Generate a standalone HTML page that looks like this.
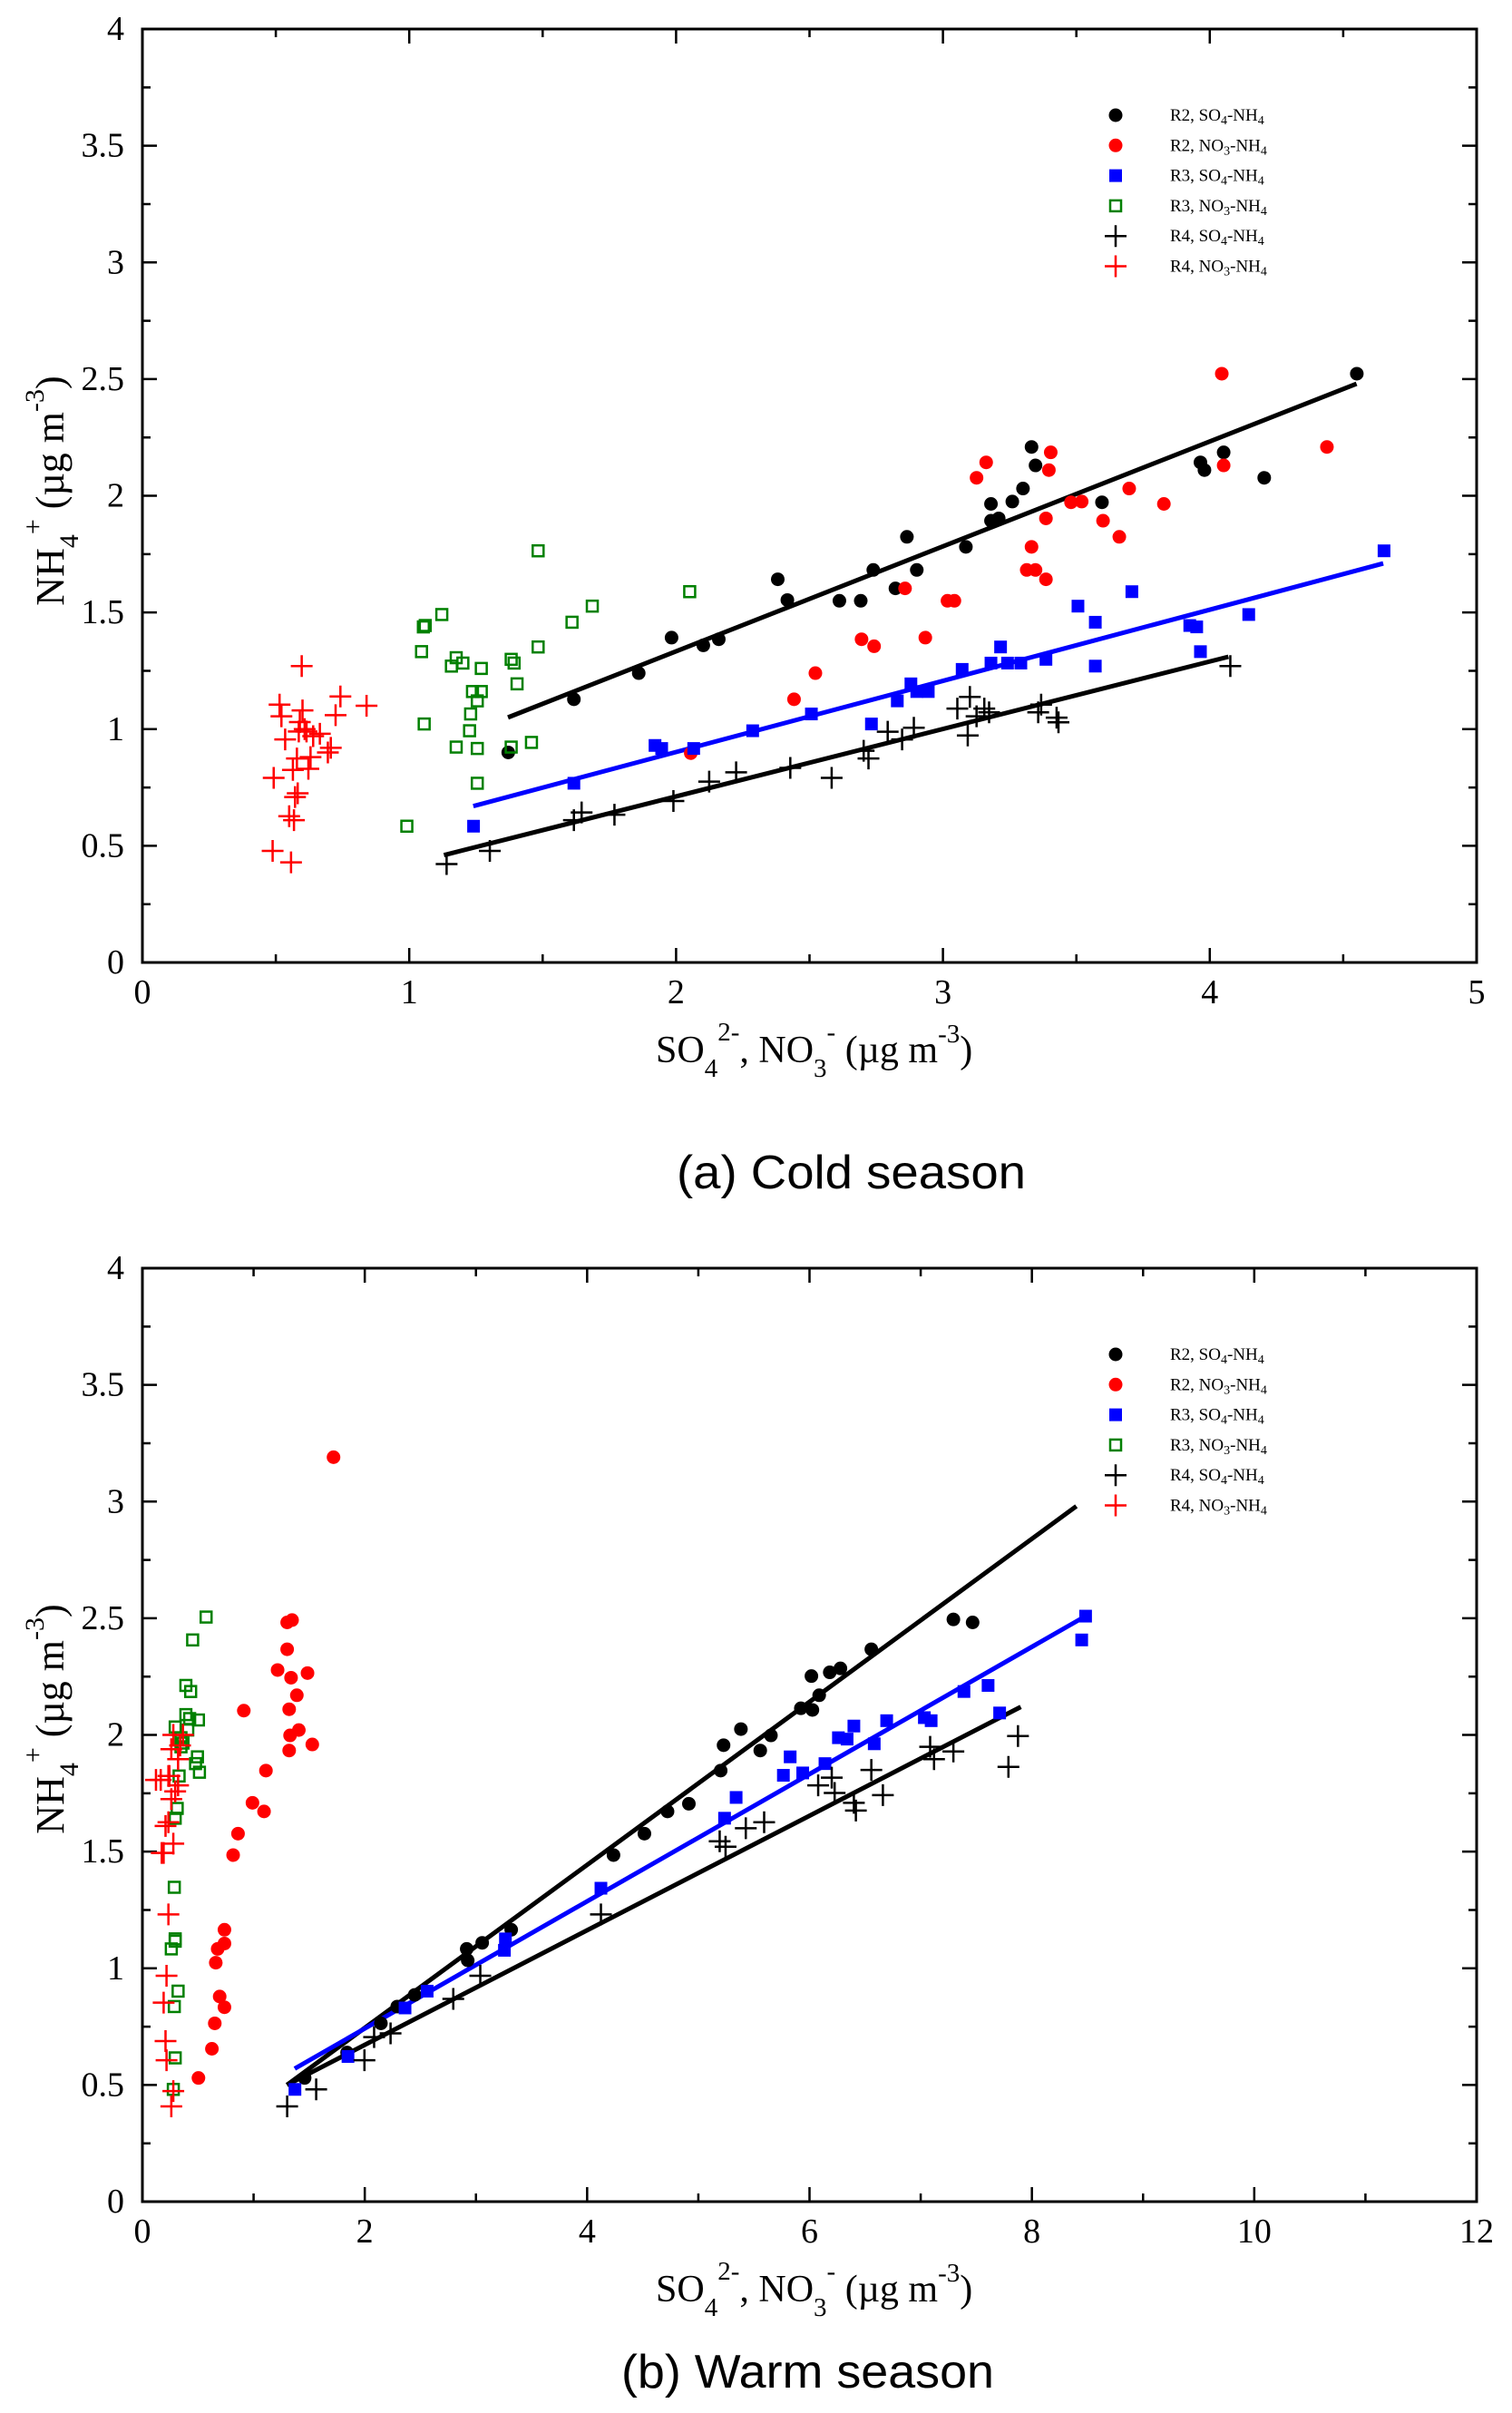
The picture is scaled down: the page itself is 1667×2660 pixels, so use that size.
<!DOCTYPE html>
<html><head><meta charset="utf-8"><style>
html,body{margin:0;padding:0;background:#fff;}
svg{display:block;}
text{font-family:"Liberation Serif",serif;fill:#000;}
.cap{font-family:"Liberation Sans",sans-serif;}
</style></head><body>
<svg id="chart" width="1667" height="2660" viewBox="0 0 1667 2660" xmlns="http://www.w3.org/2000/svg">
<g id="pa"></g>
<g id="pb"></g>
<text class="cap" x="746" y="1310" font-size="52" textLength="385" lengthAdjust="spacingAndGlyphs">(a)  Cold season</text>
<text class="cap" x="685" y="2632" font-size="52" textLength="411" lengthAdjust="spacingAndGlyphs">(b) Warm season</text>
</svg>
<script>
// ===== Panel (a) cold season data =====
const a_r2so4_x=[1.371,1.617,1.860,1.983,2.102,2.160,2.381,2.417,2.612,2.692,2.739,2.822,2.865,2.902,3.086,3.180,3.180,3.209,3.260,3.300,3.332,3.347,3.596,3.965,3.980,4.052,4.204,4.551];
const a_r2so4_y=[0.900,1.128,1.240,1.392,1.359,1.385,1.642,1.553,1.550,1.550,1.682,1.603,1.824,1.682,1.781,1.893,1.965,1.903,1.975,2.031,2.209,2.130,1.972,2.143,2.110,2.186,2.077,2.523];
const a_r2no3_x=[2.055,2.442,2.522,2.695,2.742,2.858,2.934,3.017,3.043,3.126,3.162,3.314,3.347,3.332,3.386,3.386,3.397,3.404,3.480,3.520,3.600,3.698,3.661,3.828,4.045,4.052,4.439];
const a_r2no3_y=[0.897,1.128,1.240,1.385,1.355,1.603,1.392,1.550,1.550,2.077,2.143,1.682,1.682,1.781,1.642,1.903,2.110,2.186,1.972,1.975,1.893,2.031,1.824,1.965,2.523,2.130,2.209];
const a_r3so4_x=[1.241,1.617,1.921,1.946,2.066,2.287,2.507,2.732,2.829,2.880,2.902,2.945,3.072,3.180,3.216,3.242,3.292,3.386,3.506,3.571,3.571,3.708,3.925,3.951,3.965,4.146,4.653];
const a_r3so4_y=[0.584,0.768,0.930,0.917,0.917,0.993,1.065,1.022,1.121,1.194,1.161,1.161,1.256,1.283,1.352,1.283,1.283,1.299,1.527,1.458,1.270,1.589,1.444,1.438,1.332,1.491,1.764];
const a_r3no3_x=[0.991,1.046,1.056,1.053,1.060,1.122,1.158,1.176,1.176,1.201,1.226,1.230,1.237,1.255,1.255,1.255,1.270,1.270,1.382,1.393,1.382,1.404,1.458,1.483,1.483,1.610,1.686,2.051];
const a_r3no3_y=[0.584,1.332,1.022,1.438,1.444,1.491,1.270,0.923,1.306,1.283,0.993,1.065,1.161,1.121,0.917,0.768,1.260,1.161,1.299,1.283,0.923,1.194,0.943,1.352,1.764,1.458,1.527,1.589];
const a_r4so4_x=[1.140,1.302,1.617,1.646,1.769,1.990,2.124,2.225,2.428,2.583,2.703,2.721,2.793,2.847,2.891,3.054,3.093,3.101,3.126,3.155,3.173,3.368,3.357,3.426,3.433,4.077];
const a_r4so4_y=[0.422,0.478,0.610,0.643,0.633,0.692,0.775,0.815,0.834,0.791,0.907,0.874,0.989,0.956,1.006,1.088,0.973,1.138,1.055,1.088,1.072,1.105,1.072,1.049,1.029,1.270];
const a_r4no3_x=[0.488,0.492,0.514,0.521,0.535,0.550,0.557,0.564,0.568,0.572,0.579,0.582,0.586,0.590,0.597,0.600,0.608,0.615,0.622,0.630,0.640,0.665,0.695,0.706,0.724,0.742,0.840];
const a_r4no3_y=[0.478,0.791,1.105,1.055,0.956,0.627,0.429,0.825,0.610,0.709,0.874,0.725,0.990,1.030,1.270,1.080,1.000,0.990,0.830,0.880,0.970,0.980,0.900,0.920,1.060,1.140,1.100];
const a_fit_r2so4=[[1.37,1.05],[4.55,2.48]];
const a_fit_r3so4=[[1.24,0.67],[4.65,1.71]];
const a_fit_r4so4=[[1.13,0.46],[4.07,1.31]];
const a_xticks=["0","1","2","3","4","5"];
// ===== Panel (b) warm season data =====
const b_r2so4_x=[1.459,1.841,2.145,2.292,2.449,2.917,2.926,3.056,3.317,4.237,4.515,4.723,4.915,5.201,5.227,5.383,5.557,5.653,5.922,6.017,6.026,6.087,6.182,6.278,6.556,7.294,7.467];
const b_r2so4_y=[0.530,0.639,0.764,0.836,0.886,1.083,1.034,1.109,1.165,1.485,1.577,1.672,1.705,1.847,1.956,2.025,1.933,1.998,2.114,2.252,2.107,2.170,2.268,2.285,2.367,2.495,2.482];
const b_r2no3_x=[0.504,0.625,0.651,0.660,0.677,0.695,0.738,0.738,0.738,0.816,0.860,0.912,0.990,1.094,1.111,1.216,1.302,1.302,1.320,1.320,1.328,1.337,1.346,1.389,1.407,1.485,1.528,1.719];
const b_r2no3_y=[0.530,0.655,0.764,1.024,1.083,0.879,0.833,1.106,1.165,1.485,1.577,2.104,1.709,1.672,1.847,2.278,2.367,2.482,1.933,2.110,1.998,2.245,2.492,2.170,2.021,2.265,1.959,3.190];
const b_r3so4_x=[1.372,1.849,2.362,2.561,3.256,3.265,4.124,5.236,5.340,5.765,5.826,5.939,6.139,6.260,6.338,6.399,6.582,6.694,7.033,7.094,7.389,7.606,7.710,8.448,8.483];
const b_r3so4_y=[0.481,0.622,0.830,0.902,1.077,1.126,1.343,1.643,1.732,1.827,1.906,1.837,1.877,1.988,1.982,2.038,1.962,2.061,2.074,2.061,2.186,2.212,2.094,2.407,2.509];
const b_r3no3_x=[0.278,0.287,0.295,0.260,0.295,0.295,0.321,0.287,0.295,0.313,0.330,0.347,0.295,0.347,0.365,0.391,0.391,0.408,0.425,0.434,0.452,0.478,0.495,0.504,0.513,0.573];
const b_r3no3_y=[0.481,0.836,0.616,1.083,1.116,1.126,0.902,1.347,1.643,1.685,1.824,1.988,2.034,1.949,1.965,2.212,2.087,2.021,2.070,2.186,2.407,1.877,1.906,2.064,1.840,2.505];
const b_r4so4_x=[1.302,1.563,1.997,2.084,2.232,2.796,3.039,4.124,5.192,5.245,5.427,5.592,6.078,6.200,6.226,6.399,6.417,6.556,6.660,7.085,7.120,7.294,7.789,7.875];
const b_r4so4_y=[0.408,0.481,0.606,0.705,0.721,0.869,0.968,1.231,1.544,1.521,1.600,1.626,1.784,1.817,1.751,1.709,1.676,1.850,1.742,1.949,1.896,1.929,1.863,1.995];
const b_r4no3_x=[0.260,0.278,0.217,0.208,0.191,0.217,0.234,0.191,0.174,0.208,0.278,0.234,0.260,0.295,0.243,0.321,0.321,0.339,0.260,0.234,0.165,0.278,0.365,0.122];
const b_r4no3_y=[0.408,0.474,0.606,0.688,0.853,0.968,1.231,1.494,1.494,1.610,1.534,1.626,1.725,1.758,1.824,1.784,1.896,1.955,1.939,1.824,1.807,2.000,2.000,1.807];
const b_fit_r2so4=[[1.30,0.50],[8.40,2.98]];
const b_fit_r3so4=[[1.37,0.57],[8.45,2.50]];
const b_fit_r4so4=[[1.30,0.50],[7.90,2.12]];
const b_xticks=["0","2","4","6","8","10","12"];
const yticks=["0","0.5","1","1.5","2","2.5","3","3.5","4"];
const legendLabels=[["R2, SO","4","-NH","4"],["R2, NO","3","-NH","4"],["R3, SO","4","-NH","4"],["R3, NO","3","-NH","4"],["R4, SO","4","-NH","4"],["R4, NO","3","-NH","4"]];

const NS="http://www.w3.org/2000/svg";
function mk(parent,tag,attrs){const e=document.createElementNS(NS,tag);for(const k in attrs)e.setAttribute(k,attrs[k]);parent.appendChild(e);return e;}

function circle(g,cx,cy,color,name){const e=mk(g,'circle',{cx:cx,cy:cy,r:7.5,fill:color});

}
function square(g,cx,cy,color,filled,name){const s=filled?14:12;const e=mk(g,'rect',{x:cx-s/2,y:cy-s/2,width:s,height:s,fill:filled?color:'none',stroke:color,'stroke-width':filled?0:2.5});

}
function plus(g,cx,cy,color,name){const e=mk(g,'path',{d:`M${cx-12},${cy}H${cx+12}M${cx},${cy-12}V${cy+12}`,stroke:color,'stroke-width':2.5,fill:'none'});

}

function panel(gid,top,bottom,xmax,xmajor,xminor,xticks,series,fits,xlabBase,tickBase,ylabCy){
  const g=document.getElementById(gid);
  const L=157,R=1628;
  const sx=v=>L+(R-L)*v/xmax;
  const sy=v=>bottom-(bottom-top)*v/4;
  const fr=mk(g,'rect',{x:L,y:top,width:R-L,height:bottom-top,fill:'none',stroke:'#000','stroke-width':3});
  
  
  for(let v=0;v<=xmax+1e-9;v+=xminor){
    const major=Math.abs(v/xmajor-Math.round(v/xmajor))<1e-6;const len=major?16:9;const x=sx(v);
    mk(g,'path',{d:`M${x},${bottom}V${bottom-len}M${x},${top}V${top+len}`,stroke:'#000','stroke-width':2.5});
  }
  xticks.forEach((t,i)=>{const e=mk(g,'text',{x:sx(i*xmajor),y:tickBase,'font-size':38,'text-anchor':'middle'});e.textContent=t;
    
    });
  for(let v=0;v<=4+1e-9;v+=0.25){
    const major=Math.abs(v*2-Math.round(v*2))<1e-6;const len=major?16:9;const y=sy(v);
    mk(g,'path',{d:`M${L},${y}H${L+len}M${R},${y}H${R-len}`,stroke:'#000','stroke-width':2.5});
  }
  yticks.forEach((t,i)=>{const e=mk(g,'text',{x:137,y:sy(i*0.5)+12,'font-size':38,'text-anchor':'end'});e.textContent=t;
    
    });
  const xl=mk(g,'text',{x:723,y:xlabBase,'font-size':42});
  
  
  xl.innerHTML='SO<tspan font-size="29" dy="16">4</tspan><tspan font-size="29" dy="-40">2-</tspan><tspan dy="24">, NO</tspan><tspan font-size="29" dy="16">3</tspan><tspan font-size="29" dy="-40">-</tspan><tspan dy="24"> (µg m</tspan><tspan font-size="29" dy="-22">-3</tspan><tspan dy="22">)</tspan>';
  const yl=mk(g,'text',{x:0,y:0,'font-size':44,'text-anchor':'middle',transform:`translate(70,${ylabCy}) rotate(-90)`});
  
  
  yl.innerHTML='NH<tspan font-size="30" dy="16">4</tspan><tspan font-size="30" dy="-40">+</tspan><tspan dy="24"> (µg m</tspan><tspan font-size="30" dy="-22">-3</tspan><tspan dy="22">)</tspan>';
  fits.forEach(f=>{const e=mk(g,'line',{x1:sx(f.p[0][0]),y1:sy(f.p[0][1]),x2:sx(f.p[1][0]),y2:sy(f.p[1][1]),stroke:f.c,'stroke-width':5});
    
    });
  series.forEach(s=>{
    const sg=mk(g,'g',{});
    
    
    s.x.forEach((xv,i)=>{const cx=sx(xv),cy=sy(s.y[i]);
      if(s.m==='c')circle(sg,cx,cy,s.c,'point');
      else if(s.m==='s')square(sg,cx,cy,s.c,true,'point');
      else if(s.m==='o')square(sg,cx,cy,s.c,false,'point');
      else plus(sg,cx,cy,s.c,'point');});
  });
  const lg=mk(g,'g',{});
  
  
  series.forEach((s,i)=>{
    const y=top+95+i*33.3;const cx=1230;
    const eg=mk(lg,'g',{});
    
    
    if(s.m==='c')circle(eg,cx,y,s.c,'legend-marker');
    else if(s.m==='s')square(eg,cx,y,s.c,true,'legend-marker');
    else if(s.m==='o')square(eg,cx,y,s.c,false,'legend-marker');
    else plus(eg,cx,y,s.c,'legend-marker');
    const lab=legendLabels[i];
    const t=mk(eg,'text',{x:1290,y:y+6,'font-size':19});
    t.innerHTML=`${lab[0]}<tspan font-size="14" dy="4">${lab[1]}</tspan><tspan dy="-4">${lab[2]}</tspan><tspan font-size="14" dy="4">${lab[3]}</tspan>`;
  });
}

const colsA=[
 {n:'series-r2-so4-nh4',x:a_r2so4_x,y:a_r2so4_y,m:'c',c:'#000'},
 {n:'series-r2-no3-nh4',x:a_r2no3_x,y:a_r2no3_y,m:'c',c:'#ff0000'},
 {n:'series-r3-so4-nh4',x:a_r3so4_x,y:a_r3so4_y,m:'s',c:'#0000ff'},
 {n:'series-r3-no3-nh4',x:a_r3no3_x,y:a_r3no3_y,m:'o',c:'#008000'},
 {n:'series-r4-so4-nh4',x:a_r4so4_x,y:a_r4so4_y,m:'p',c:'#000'},
 {n:'series-r4-no3-nh4',x:a_r4no3_x,y:a_r4no3_y,m:'p',c:'#ff0000'}];
const colsB=[
 {n:'series-r2-so4-nh4',x:b_r2so4_x,y:b_r2so4_y,m:'c',c:'#000'},
 {n:'series-r2-no3-nh4',x:b_r2no3_x,y:b_r2no3_y,m:'c',c:'#ff0000'},
 {n:'series-r3-so4-nh4',x:b_r3so4_x,y:b_r3so4_y,m:'s',c:'#0000ff'},
 {n:'series-r3-no3-nh4',x:b_r3no3_x,y:b_r3no3_y,m:'o',c:'#008000'},
 {n:'series-r4-so4-nh4',x:b_r4so4_x,y:b_r4so4_y,m:'p',c:'#000'},
 {n:'series-r4-no3-nh4',x:b_r4no3_x,y:b_r4no3_y,m:'p',c:'#ff0000'}];

panel('pa',32,1061,5,1,0.5,a_xticks,colsA,[
 {n:'fit-line-r2-so4',p:a_fit_r2so4,c:'#000'},{n:'fit-line-r3-so4',p:a_fit_r3so4,c:'#0000ff'},{n:'fit-line-r4-so4',p:a_fit_r4so4,c:'#000'}],1171,1106,541);
panel('pb',1398,2427,12,2,1,b_xticks,colsB,[
 {n:'fit-line-r2-so4',p:b_fit_r2so4,c:'#000'},{n:'fit-line-r3-so4',p:b_fit_r3so4,c:'#0000ff'},{n:'fit-line-r4-so4',p:b_fit_r4so4,c:'#000'}],2537,2472,1895);
</script>
</body></html>
